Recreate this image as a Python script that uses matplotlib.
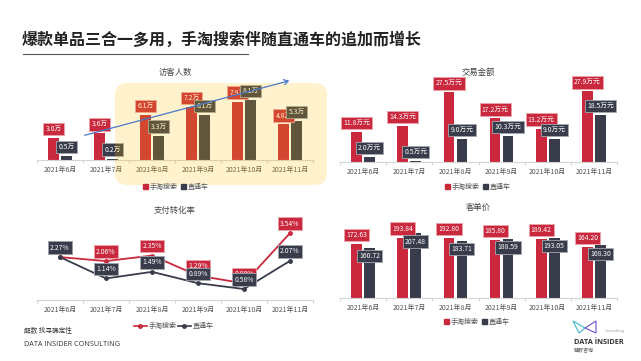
import matplotlib
matplotlib.use("Agg")
import matplotlib.pyplot as plt
from matplotlib.patches import Patch, FancyBboxPatch, FancyArrowPatch, Polygon
from matplotlib.lines import Line2D
import numpy as np

plt.rcParams['font.family'] = ['Noto Sans CJK SC', 'DejaVu Sans']

months = ["2021年6月", "2021年7月", "2021年8月", "2021年9月", "2021年10月", "2021年11月"]
series_names = ["手淘搜索", "直通车"]

# 访客人数 (万)
visitors_search = [3.0, 3.6, 6.1, 7.2, 7.9, 4.8]
visitors_ztc = [0.5, 0.2, 3.3, 6.1, 8.1, 5.3]
# 交易金额 (万元)
gmv_search = [11.8, 14.3, 27.5, 17.2, 13.2, 27.9]
gmv_ztc = [2.0, 0.5, 9.0, 10.3, 9.0, 18.5]
# 支付转化率 (%)
cvr_search = [2.27, 2.06, 2.35, 1.29, 0.88, 3.54]
cvr_ztc = [2.27, 1.14, 1.49, 0.89, 0.58, 2.07]
# 客单价
aov_search = [172.63, 193.84, 192.80, 185.80, 189.42, 164.20]
aov_ztc = [160.72, 207.48, 183.71, 188.59, 193.05, 168.30]

RED = "#c9283d"
DARK = "#383c4b"
RED_EDGE = "#eba3ac"
DARK_EDGE = "#a4a7b0"
W, H = 641, 361

fig = plt.figure(figsize=(W / 100, H / 100), dpi=100)


def px_axes(left, right, bottom, top):
    return fig.add_axes([left / W, 1 - bottom / H, (right - left) / W, (bottom - top) / H])


def style_axis(ax, ymax, pad):
    ax.set_xlim(-0.5, 5.5)
    ax.set_ylim(0, ymax)
    for s in ["top", "right", "left"]:
        ax.spines[s].set_visible(False)
    ax.spines["bottom"].set_color("#d4d4d4")
    ax.spines["bottom"].set_linewidth(0.8)
    ax.set_yticks([])
    ax.set_xticks(np.arange(-0.5, 6, 1))
    ax.set_xticklabels([])
    ax.tick_params(axis="x", which="major", length=2.5, color="#d4d4d4", width=0.8)
    ax.set_xticks(range(6), minor=True)
    ax.set_xticklabels(months, minor=True, fontsize=5, color="#555555")
    ax.tick_params(axis="x", which="minor", length=0, pad=pad)
    ax.patch.set_alpha(0)


def box_label(ax, x, y, text, fc, ec, dy=3.6, va="bottom"):
    ax.annotate(text, xy=(x, y), xytext=(0, dy), textcoords="offset points",
                ha="center", va=va, fontsize=4.9, color="white", zorder=4,
                bbox=dict(boxstyle="square,pad=0.32", fc=fc, ec=ec, lw=0.6))


def bar_chart(ax, a, b, fmt, ztc_dy=3.6, ztc_va="bottom"):
    x = np.arange(len(months))
    ax.bar(x - 0.14, a, width=0.23, color=RED, zorder=2)
    ax.bar(x + 0.14, b, width=0.23, color=DARK, zorder=2)
    for i in range(len(months)):
        box_label(ax, x[i] - 0.14, a[i], fmt.format(a[i]), RED, RED_EDGE)
    for i in range(len(months)):
        box_label(ax, x[i] + 0.14, b[i], fmt.format(b[i]), DARK, DARK_EDGE, dy=ztc_dy, va=ztc_va)


def bar_legend(x, y):
    handles = [Patch(color=RED), Patch(color=DARK)]
    fig.legend(handles, series_names, loc="center", bbox_to_anchor=(x / W, 1 - y / H),
               ncol=2, frameon=False, fontsize=5, handlelength=0.7, handleheight=0.7,
               handletextpad=0.3, columnspacing=0.4, labelcolor="#555555")


def line_legend(x, y):
    handles = [Line2D([], [], color=RED, lw=1.2, marker="o", markersize=2.5),
               Line2D([], [], color=DARK, lw=1.2, marker="o", markersize=2.5)]
    fig.legend(handles, series_names, loc="center", bbox_to_anchor=(x / W, 1 - y / H),
               ncol=2, frameon=False, fontsize=5, handlelength=1.8,
               handletextpad=0.3, columnspacing=0.2, labelcolor="#555555")


def chart_title(x, y, text):
    fig.text(x / W, 1 - y / H, text, ha="center", va="center", fontsize=6, color="#444444")


# title
fig.text(22 / W, 1 - 40 / H, "爆款单品三合一多用，手淘搜索伴随直通车的追加而增长",
         fontsize=11.5, fontweight="bold", color="#222222", va="center", ha="left")
fig.add_artist(Line2D([23 / W, 248 / W], [1 - 54 / H, 1 - 54 / H], color="#555555", lw=0.8))

# 访客人数
ax1 = px_axes(37, 313, 160, 86)
style_axis(ax1, 10, 4.6)
bar_chart(ax1, visitors_search, visitors_ztc, "{:.1f}万")
chart_title(175, 72, "访客人数")
bar_legend(176, 187)

# 交易金额
ax2 = px_axes(340, 617, 162, 81)
style_axis(ax2, 32, 4.6)
bar_chart(ax2, gmv_search, gmv_ztc, "{:.1f}万元")
chart_title(478, 72, "交易金额")
bar_legend(478, 187)

# 支付转化率
ax3 = px_axes(37, 313, 300, 224.4)
style_axis(ax3, 4, 4.6)
x = np.arange(len(months))
ax3.plot(x, cvr_search, color=RED, lw=1.3, marker="o", markersize=2.5, zorder=2)
ax3.plot(x, cvr_ztc, color=DARK, lw=1.3, marker="o", markersize=2.5, zorder=2)
for i in range(len(months)):
    box_label(ax3, x[i], cvr_search[i], "{:.2f}%".format(cvr_search[i]), RED, RED_EDGE, dy=6.8, va="center")
for i in range(len(months)):
    box_label(ax3, x[i], cvr_ztc[i], "{:.2f}%".format(cvr_ztc[i]), DARK, DARK_EDGE, dy=6.8, va="center")
chart_title(175, 210, "支付转化率")
line_legend(174, 326)

# 客单价
ax4 = px_axes(340, 617, 298, 220)
style_axis(ax4, 250, 4.6)
bar_chart(ax4, aov_search, aov_ztc, "{:.2f}", ztc_dy=-6, ztc_va="center")
chart_title(478, 207, "客单价")
bar_legend(477, 322)

# highlight box and trend arrow over the visitors chart
overlay = FancyBboxPatch((115 / 100, (H - 185) / 100), 2.12, 1.02,
                         boxstyle="round,pad=0,rounding_size=0.12",
                         transform=fig.dpi_scale_trans, fc="#ffc000", ec="none",
                         alpha=0.2, zorder=5)
fig.add_artist(overlay)
arrow = FancyArrowPatch((82 / W, 1 - 136 / H), (292 / W, 1 - 80 / H),
                        transform=fig.transFigure, arrowstyle="->,head_length=3,head_width=1.8",
                        color="#4a78c8", lw=0.9, zorder=6)
fig.add_artist(arrow)

# footer
fig.text(24 / W, 1 - 331 / H, "解数 找寻确定性", fontsize=4.8, color="#333333", va="center")
fig.text(24 / W, 1 - 345 / H, "DATA INSIDER CONSULTING", fontsize=5.2, color="#333333",
         va="center", family=["Open Sans", "DejaVu Sans"])

# logo
fig.add_artist(Polygon([(573 / W, 1 - 321 / H), (579 / W, 1 - 333 / H), (585 / W, 1 - 328 / H)],
                       closed=True, fill=False, ec="#3fb8c8", lw=0.8, transform=fig.transFigure))
fig.add_artist(Polygon([(585 / W, 1 - 328 / H), (596 / W, 1 - 321 / H), (596 / W, 1 - 333 / H)],
                       closed=True, fill=False, ec="#6a4cc8", lw=0.8, transform=fig.transFigure))
fig.text(605 / W, 1 - 331 / H, "Consulting", fontsize=2.8, color="#999999", va="center")
fig.text(574 / W, 1 - 342 / H, "DATA İNSIDER", fontsize=5.3, fontweight="bold", color="#333333",
         va="center", family=["Open Sans", "DejaVu Sans"])
fig.text(574 / W, 1 - 351 / H, "解数咨询", fontsize=3.6, color="#555555", va="center")

fig.savefig("out.png", dpi=100)
